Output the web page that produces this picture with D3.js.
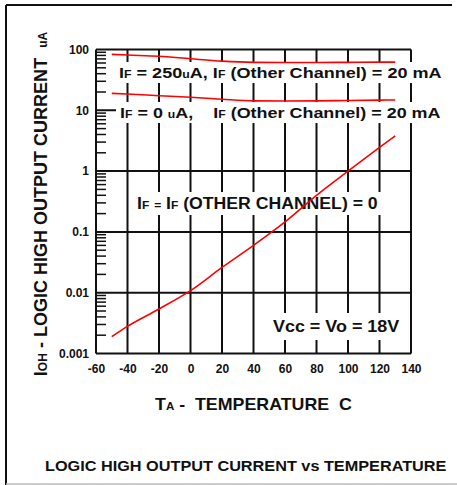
<!DOCTYPE html>
<html>
<head>
<meta charset="utf-8">
<script src="https://cdn.jsdelivr.net/npm/d3@7"></script>
<style>
  body { margin: 0; background: #fff; }
  svg { display: block; font-family: "Liberation Sans", Arial, sans-serif; font-weight: bold; }
  text { white-space: pre; }
</style>
</head>
<body>
<div id="chart"></div>
<script>
// temperature points (C)
var temps = [-50, -40, -20, 0, 20, 40, 60, 80, 100, 120, 130]
// IF = 250uA, IF(other) = 20 mA
var ioh_250 = [83, 81, 77.5, 70.5, 64.5, 61.5, 61, 61, 61.5, 62, 62]
// IF = 0 uA, IF(other) = 20 mA
var ioh_0 = [19, 18.5, 17.4, 16.4, 15.2, 14.3, 14.2, 14.3, 14.5, 14.7, 14.8]
// IF = IF(other) = 0
var ioh_off = [0.0019, 0.0028, 0.0054, 0.0108, 0.026, 0.06, 0.146, 0.4, 1.0, 2.45, 3.8]

var x_ticks = [-60, -40, -20, 0, 20, 40, 60, 80, 100, 120, 140]
var y_ticks = [0.001, 0.01, 0.1, 1, 10, 100]
var y_tick_labels = ['0.001', '0.01', '0.1', '1', '10', '100']

var chart_width = 457
var chart_height = 485

var svg = d3.select('#chart')
    .append('svg')
    .attr('width', chart_width)
    .attr('height', chart_height)

// outer frame (left, top, bottom)
svg.append('line').attr('x1', 6).attr('x2', 6).attr('y1', 5).attr('y2', 485)
    .attr('stroke', '#111').attr('stroke-width', 2)
svg.append('line').attr('x1', 6).attr('x2', 452).attr('y1', 5).attr('y2', 5)
    .attr('stroke', '#111').attr('stroke-width', 2)
svg.append('line').attr('x1', 6).attr('x2', 457).attr('y1', 484).attr('y2', 484)
    .attr('stroke', '#bbb').attr('stroke-width', 1.5)

var x_scale = d3.scaleLinear()
    .domain([-60, 140])
    .range([96, 411])

var y_scale = d3.scaleLog()
    .domain([0.001, 100])
    .range([353.5, 49.5])

// stretch a text horizontally so it spans width w starting at x0
function stretch(t, x0, w) {
    var k = w / t.node().getBBox().width
    t.attr('transform', 'translate(' + x0 + ',0) scale(' + k + ',1) translate(' + (-x0) + ',0)')
}

var grid = svg.append('g').attr('stroke', '#111').attr('stroke-width', 2)

// vertical grid lines
grid.selectAll('.vg')
    .data(x_ticks)
    .enter()
    .append('line')
    .attr('x1', function (d) { return x_scale(d) })
    .attr('x2', function (d) { return x_scale(d) })
    .attr('y1', y_scale(0.001))
    .attr('y2', y_scale(100))

// horizontal grid lines
grid.selectAll('.hg')
    .data(y_ticks)
    .enter()
    .append('line')
    .attr('x1', x_scale(-60))
    .attr('x2', x_scale(140))
    .attr('y1', function (d) { return y_scale(d) })
    .attr('y2', function (d) { return y_scale(d) })

// minor log ticks on the left axis (2..9 of each decade)
var minor = y_scale.ticks().filter(function (d) {
    return Math.round(d / Math.pow(10, Math.floor(Math.log10(d) + 1e-9))) !== 1
})
grid.selectAll('.mt')
    .data(minor)
    .enter()
    .append('line')
    .attr('x1', x_scale(-60))
    .attr('x2', x_scale(-60) + 10)
    .attr('y1', function (d) { return y_scale(d) })
    .attr('y2', function (d) { return y_scale(d) })
    .attr('stroke-width', 1.5)

// tick labels
svg.append('g')
    .attr('transform', 'translate(' + x_scale(-60) + ',0)')
    .call(d3.axisLeft(y_scale).tickValues(y_ticks).tickSize(0).tickPadding(7)
        .tickFormat(function (d, i) { return y_tick_labels[i] }))
    .call(function (g) {
        g.select('.domain').remove()
        g.selectAll('text').attr('font-size', 12).attr('font-family', null).attr('fill', '#111')
    })

svg.append('g')
    .attr('transform', 'translate(0,' + y_scale(0.001) + ')')
    .call(d3.axisBottom(x_scale).tickValues(x_ticks).tickSize(0).tickPadding(11)
        .tickFormat(function (d) { return String(d) }))
    .call(function (g) {
        g.select('.domain').remove()
        g.selectAll('text').attr('font-size', 12).attr('font-family', null).attr('fill', '#111')
    })

// labels with white boxes behind them
function label(x, y, size, parts, w, pad) {
    var g = svg.append('g')
    var rect = g.append('rect').attr('fill', '#fff')
    var t = g.append('text').attr('x', x).attr('y', y).attr('font-size', size).attr('fill', '#111')
    parts.forEach(function (p) {
        t.append('tspan').attr('font-size', p[1] ? size * 0.68 : size).text(p[0])
    })
    var b = t.node().getBBox()
    stretch(t, x, w)
    rect.attr('x', x - pad[0]).attr('y', b.y - pad[1])
        .attr('width', w + pad[0] * 2).attr('height', b.height + pad[1] * 2)
}

label(119, 78, 15, [['I'], ['F', 1], [' = 250'], ['u', 1], ['A, I'], ['F', 1], [' (Other Channel) = 20 mA']], 323, [4, 2])
label(120, 118, 15, [['I'], ['F', 1], [' = 0 '], ['u', 1], ['A,    I'], ['F', 1], [' (Other Channel) = 20 mA']], 321, [4, 2])
label(137, 209, 16, [['I'], ['F', 1], [' '], ['=', 1], [' I'], ['F', 1], [' (OTHER CHANNEL) = 0']], 241, [4, 3])
label(273, 332, 17, [['Vcc = Vo = 18V']], 127, [4, 4])

// curves
var line = d3.line()
    .x(function (d) { return x_scale(d[0]) })
    .y(function (d) { return y_scale(d[1]) })
    .curve(d3.curveMonotoneX)

;[ioh_250, ioh_0, ioh_off].forEach(function (s) {
    svg.append('path')
        .datum(temps.map(function (t, i) { return [t, s[i]] }))
        .attr('d', line)
        .attr('fill', 'none')
        .attr('stroke', '#f00')
        .attr('stroke-width', 1.6)
})

// axis titles
var yt = svg.append('text')
    .attr('text-anchor', 'middle')
    .attr('font-size', 18)
    .attr('fill', '#111')
yt.append('tspan').text('I')
yt.append('tspan').attr('font-size', 12).text('OH')
yt.append('tspan').text(' - LOGIC HIGH OUTPUT CURRENT  ')
yt.append('tspan').attr('font-size', 12).text('uA')
var ytk = 345 / yt.node().getBBox().width
yt.attr('transform', 'translate(47,204) rotate(-90) scale(' + ytk + ',1)')

var xt = svg.append('text')
    .attr('x', 155)
    .attr('y', 410)
    .attr('font-size', 17)
    .attr('fill', '#111')
xt.append('tspan').text('T')
xt.append('tspan').attr('font-size', 11).text('A')
xt.append('tspan').text(' -  TEMPERATURE  C')
stretch(xt, 155, 197)

var bt = svg.append('text')
    .attr('x', 45)
    .attr('y', 471)
    .attr('font-size', 14)
    .attr('fill', '#111')
    .text('LOGIC HIGH OUTPUT CURRENT vs TEMPERATURE')
stretch(bt, 45, 402)
</script>
</body>
</html>
